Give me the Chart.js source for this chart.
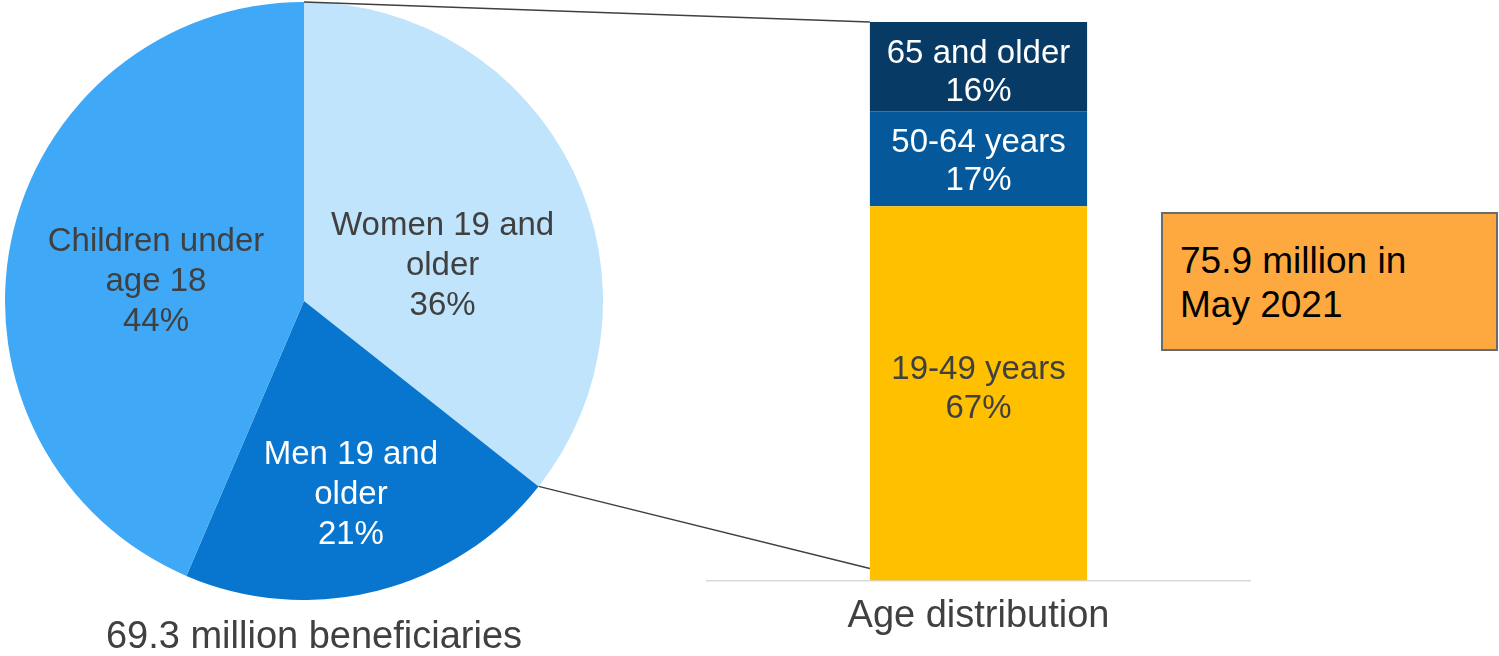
<!DOCTYPE html>
<html>
<head>
<meta charset="utf-8">
<title>Beneficiaries by group</title>
<script src="https://cdn.jsdelivr.net/npm/chart.js@4.4.0/dist/chart.umd.min.js"></script>
<style>
  body { margin: 0; background: #fff; font-family: "Liberation Sans", Arial, sans-serif; }
  #wrap { position: relative; width: 1499px; height: 656px; overflow: hidden; }
  #wrap canvas { position: absolute; }
  #pieChart { left: 5px; top: 2px; }
  #barChart { left: 690px; top: 0; }
  #links { left: 0; top: 0; pointer-events: none; }
  #pieTitle { position: absolute; left: 0; top: 613px; width: 628px; text-align: center;
    font-size: 38px; line-height: 44px; color: #404040; }
  #note { position: absolute; left: 1161px; top: 212px; width: 337px; height: 139px; box-sizing: border-box;
    border: 2px solid #6b6b6b; background: #fda940; padding: 25px 0 0 17px;
    font-size: 37px; line-height: 44px; color: #000; }
</style>
</head>
<body>
<div id="wrap">
  <canvas id="pieChart" width="598" height="598"></canvas>
  <canvas id="barChart" width="600" height="656"></canvas>
  <canvas id="links" width="1499" height="656"></canvas>
  <div id="pieTitle">69.3 million beneficiaries</div>
  <div id="note">75.9 million in<br>May 2021</div>
</div>
<script>
// pie: beneficiaries by group (%), clockwise from 12 o'clock
var groupLabels = [['Women 19 and', 'older'], ['Men 19 and', 'older'], ['Children under', 'age 18']];
var groupShares = [36, 21, 44];

// stacked bar: adults by age (%), bottom to top
var ageLabels = ['19-49 years', '50-64 years', '65 and older'];
var ageShares = [67, 17, 16];
var ageCategory = ['Age distribution'];

var pieColors = ['#bfe4fb', '#0876ce', '#40a9f7'];
var pieTextColors = ['#404040', '#ffffff', '#404040'];
var barColors = ['#ffc000', '#05599b', '#073b65'];
var barTextColors = ['#404040', '#ffffff', '#ffffff'];

// where each pie label sits: fraction of radius, and a nudge off the mid angle (deg)
var pieLabelRadius = [0.48, 0.66, 0.50];
var pieLabelTurn = [10.8, 0.5, -3.5];
// small vertical nudge of the bar labels inside their segments (px)
var barLabelShift = [-4, 3, 6];

var FONT = '"Liberation Sans", Arial, sans-serif';
Chart.defaults.font.family = FONT;

function drawLines(ctx, lines, x, y, lh) {
  lines.forEach(function (t, k) {
    ctx.fillText(t, x, y + (k - (lines.length - 1) / 2) * lh);
  });
}

var pieLabelPlugin = {
  id: 'pieLabels',
  afterDatasetsDraw: function (chart) {
    var ctx = chart.ctx;
    ctx.save();
    ctx.font = '33px ' + FONT;
    ctx.textAlign = 'center';
    ctx.textBaseline = 'middle';
    chart.getDatasetMeta(0).data.forEach(function (arc, i) {
      var p = arc.getProps(['x', 'y', 'startAngle', 'endAngle', 'outerRadius']);
      var mid = (p.startAngle + p.endAngle) / 2 + pieLabelTurn[i] * Math.PI / 180;
      var r = p.outerRadius * pieLabelRadius[i];
      ctx.fillStyle = pieTextColors[i];
      drawLines(ctx, groupLabels[i].concat(groupShares[i] + '%'),
        p.x + Math.cos(mid) * r, p.y + Math.sin(mid) * r + 2, 40);
    });
    ctx.restore();
  }
};

var barLabelPlugin = {
  id: 'barLabels',
  afterDatasetsDraw: function (chart) {
    var ctx = chart.ctx;
    ctx.save();
    ctx.font = '33px ' + FONT;
    ctx.textAlign = 'center';
    ctx.textBaseline = 'middle';
    chart.data.datasets.forEach(function (ds, i) {
      var bar = chart.getDatasetMeta(i).data[0];
      ctx.fillStyle = barTextColors[i];
      drawLines(ctx, [ds.label, ds.data[0] + '%'], bar.x, (bar.y + bar.base) / 2 + barLabelShift[i], 38.5);
    });
    ctx.restore();
  }
};

var pieChart = new Chart(document.getElementById('pieChart'), {
  type: 'pie',
  data: {
    labels: groupLabels.map(function (l) { return l.join(' '); }),
    datasets: [{ data: groupShares, backgroundColor: pieColors, borderWidth: 0 }]
  },
  options: {
    responsive: false,
    animation: false,
    layout: { padding: 0 },
    plugins: { legend: { display: false }, tooltip: { enabled: false } }
  },
  plugins: [pieLabelPlugin]
});

var barChart = new Chart(document.getElementById('barChart'), {
  type: 'bar',
  data: {
    labels: ageCategory,
    datasets: ageLabels.map(function (l, i) {
      return {
        label: l,
        data: [ageShares[i]],
        backgroundColor: barColors[i],
        borderWidth: 0,
        barPercentage: 0.4,
        categoryPercentage: 1
      };
    })
  },
  options: {
    responsive: false,
    animation: false,
    layout: { padding: { left: 17, right: 40, top: 22, bottom: 4 } },
    plugins: { legend: { display: false }, tooltip: { enabled: false } },
    scales: {
      x: {
        stacked: true,
        grid: { display: false, drawTicks: false },
        border: { display: true, color: '#d9d9d9', width: 1.5 },
        ticks: { color: '#404040', font: { size: 38 }, padding: 13 }
      },
      y: { stacked: true, display: false, min: 0, max: 100 }
    }
  },
  plugins: [barLabelPlugin]
});

// leader lines from the women slice to the age bar
function drawLinks() {
  var ctx = document.getElementById('links').getContext('2d');
  var pieBox = document.getElementById('pieChart');
  var barBox = document.getElementById('barChart');
  var arc = pieChart.getDatasetMeta(0).data[0].getProps(['x', 'y', 'startAngle', 'endAngle', 'outerRadius']);
  var bottomBar = barChart.getDatasetMeta(0).data[0];
  var topBar = barChart.getDatasetMeta(ageShares.length - 1).data[0];
  var px = pieBox.offsetLeft, py = pieBox.offsetTop;
  var bx = barBox.offsetLeft + bottomBar.x - bottomBar.width / 2, by = barBox.offsetTop;

  ctx.strokeStyle = '#404040';
  ctx.lineWidth = 1.5;
  ctx.beginPath();
  ctx.moveTo(px + arc.x + Math.cos(arc.startAngle) * arc.outerRadius, py + arc.y + Math.sin(arc.startAngle) * arc.outerRadius);
  ctx.lineTo(bx, by + topBar.y);
  ctx.moveTo(px + arc.x + Math.cos(arc.endAngle) * arc.outerRadius, py + arc.y + Math.sin(arc.endAngle) * arc.outerRadius);
  ctx.lineTo(bx, by + bottomBar.base - 12);
  ctx.stroke();
}
drawLinks();
</script>
</body>
</html>
